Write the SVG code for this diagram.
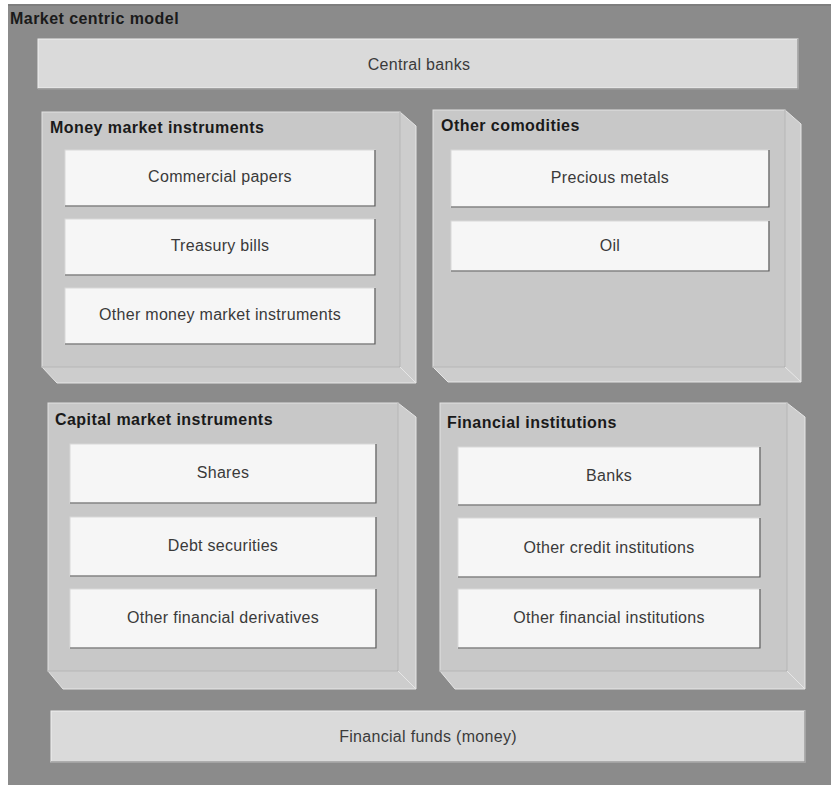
<svg xmlns="http://www.w3.org/2000/svg" width="831" height="785" viewBox="0 0 831 785">
<style>
.bg{fill:#8b8b8b}
.bar{fill:#dadada;stroke:#f0f0f0;stroke-width:1}
.barsh{fill:none;stroke:#9a9a9a;stroke-width:1.5}
.front{fill:#c8c8c8;stroke:#e2e2e2;stroke-width:1}
.side{fill:#cdcdcd;stroke:#e6e6e6;stroke-width:1}
.edge{fill:none;stroke:#a8a8a8;stroke-width:1}
.box{fill:#f6f6f6;stroke:#d8d8d8;stroke-width:1}
.boxsh{fill:none;stroke:#5a5a5a;stroke-width:1.2}
.t{font-family:"Liberation Sans",Arial,sans-serif;font-size:16px;letter-spacing:0.3px;fill:#3a3a3a;text-anchor:middle}
.h{font-family:"Liberation Sans",Arial,sans-serif;font-size:16px;letter-spacing:0.45px;font-weight:bold;fill:#1a1a1a}
</style>
<rect x="0" y="0" width="831" height="785" fill="#ffffff"/>
<rect class="bg" x="8" y="4" width="823" height="781"/>
<line x1="8" y1="5" x2="831" y2="5" stroke="#7a7a7a" stroke-width="1.5"/>
<g id="title"><text class="h" x="10" y="24">Market centric model</text></g>

<g id="central-banks">
<rect class="bar" x="38" y="39" width="760" height="49"/>
<path class="barsh" d="M38 89 H798 V39"/>
<text class="t" x="419" y="70">Central banks</text>
</g>

<g id="money-market">
<polygon class="side" points="400,112 416,126 416,383 400,367"/>
<polygon class="side" points="42,367 400,367 416,383 57,383"/>
<rect class="front" x="42" y="112" width="358" height="255"/>
<path class="edge" d="M42 367 H400 V112"/>
<text class="h" x="50" y="133">Money market instruments</text>
<g id="commercial-papers"><rect class="box" x="65" y="150" width="310" height="56"/><path class="boxsh" d="M65 206 H375 V150"/><text class="t" x="220" y="182">Commercial papers</text></g>
<g id="treasury-bills"><rect class="box" x="65" y="219" width="310" height="56"/><path class="boxsh" d="M65 275 H375 V219"/><text class="t" x="220" y="251">Treasury bills</text></g>
<g id="other-mm"><rect class="box" x="65" y="288" width="310" height="56"/><path class="boxsh" d="M65 344 H375 V288"/><text class="t" x="220" y="320">Other money market instruments</text></g>
</g>

<g id="other-comodities">
<polygon class="side" points="785,110 801,124 801,382 785,367"/>
<polygon class="side" points="433,367 785,367 801,382 448,382"/>
<rect class="front" x="433" y="110" width="352" height="257"/>
<path class="edge" d="M433 367 H785 V110"/>
<text class="h" x="441" y="131">Other comodities</text>
<g id="precious-metals"><rect class="box" x="451" y="150" width="318" height="57"/><path class="boxsh" d="M451 207 H769 V150"/><text class="t" x="610" y="183">Precious metals</text></g>
<g id="oil"><rect class="box" x="451" y="221" width="318" height="50"/><path class="boxsh" d="M451 271 H769 V221"/><text class="t" x="610" y="251">Oil</text></g>
</g>

<g id="capital-market">
<polygon class="side" points="398,403 416,417 416,689 398,671"/>
<polygon class="side" points="48,671 398,671 416,689 63,689"/>
<rect class="front" x="48" y="403" width="350" height="268"/>
<path class="edge" d="M48 671 H398 V403"/>
<text class="h" x="55" y="425">Capital market instruments</text>
<g id="shares"><rect class="box" x="70" y="444" width="306" height="59"/><path class="boxsh" d="M70 503 H376 V444"/><text class="t" x="223" y="478">Shares</text></g>
<g id="debt-securities"><rect class="box" x="70" y="517" width="306" height="59"/><path class="boxsh" d="M70 576 H376 V517"/><text class="t" x="223" y="551">Debt securities</text></g>
<g id="other-fin-deriv"><rect class="box" x="70" y="589" width="306" height="59"/><path class="boxsh" d="M70 648 H376 V589"/><text class="t" x="223" y="623">Other financial derivatives</text></g>
</g>

<g id="financial-institutions">
<polygon class="side" points="787,403 805,417 805,689 787,671"/>
<polygon class="side" points="440,671 787,671 805,689 455,689"/>
<rect class="front" x="440" y="403" width="347" height="268"/>
<path class="edge" d="M440 671 H787 V403"/>
<text class="h" x="447" y="428">Financial institutions</text>
<g id="banks"><rect class="box" x="458" y="447" width="302" height="58"/><path class="boxsh" d="M458 505 H760 V447"/><text class="t" x="609" y="481">Banks</text></g>
<g id="other-credit"><rect class="box" x="458" y="518" width="302" height="59"/><path class="boxsh" d="M458 577 H760 V518"/><text class="t" x="609" y="553">Other credit institutions</text></g>
<g id="other-fin-inst"><rect class="box" x="458" y="589" width="302" height="59"/><path class="boxsh" d="M458 648 H760 V589"/><text class="t" x="609" y="623">Other financial institutions</text></g>
</g>

<g id="financial-funds">
<rect class="bar" x="51" y="711" width="754" height="51"/>
<path class="barsh" d="M51 762 H805 V711"/>
<text class="t" x="428" y="742">Financial funds (money)</text>
</g>
<g id="connectors"/>
</svg>
